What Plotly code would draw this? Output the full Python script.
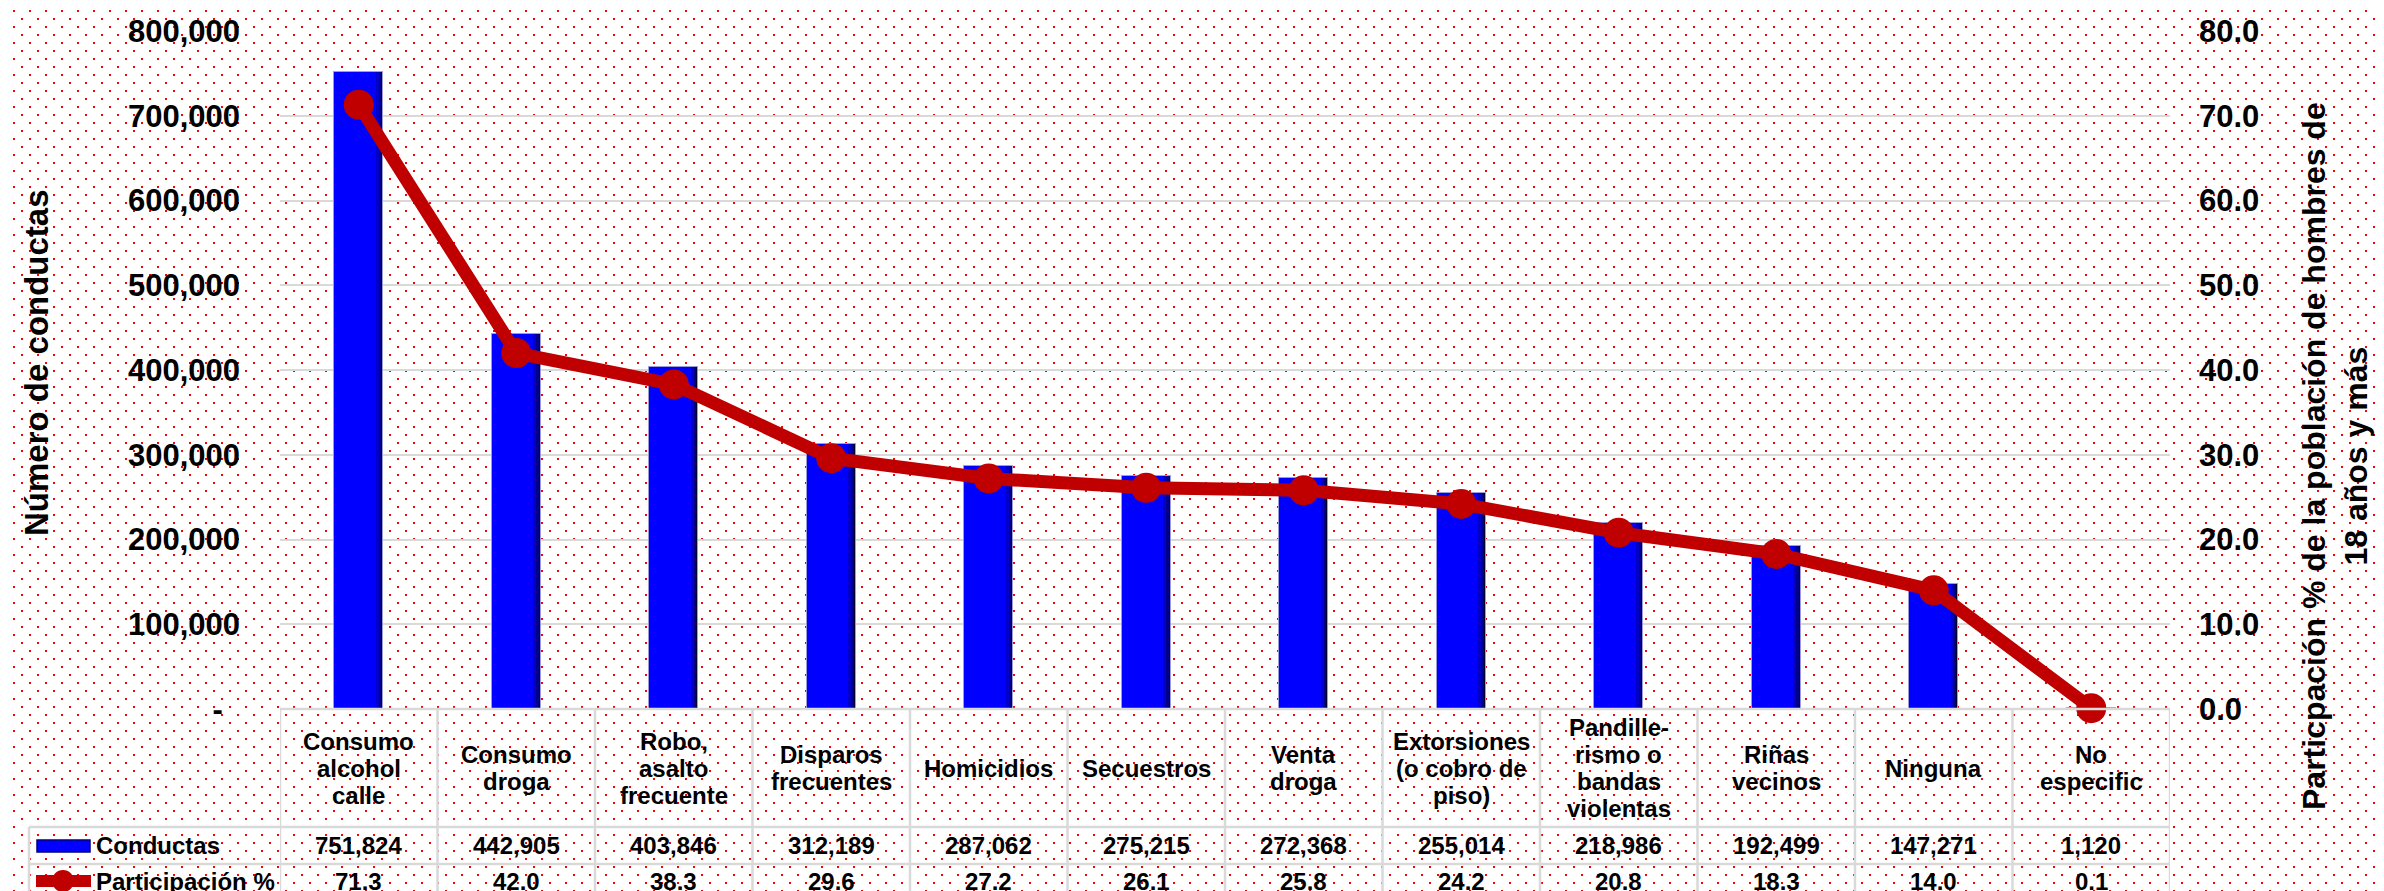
import base64
import plotly.graph_objects as go

# ---------------- data ----------------
categories = ["Consumo alcohol calle", "Consumo droga", "Robo, asalto frecuente",
              "Disparos frecuentes", "Homicidios", "Secuestros", "Venta droga",
              "Extorsiones (o cobro de piso)", "Pandille-rismo o bandas violentas",
              "Riñas vecinos", "Ninguna", "No especific"]
category_lines = [["Consumo", "alcohol", "calle"], ["Consumo", "droga"],
                  ["Robo,", "asalto", "frecuente"], ["Disparos", "frecuentes"],
                  ["Homicidios"], ["Secuestros"], ["Venta", "droga"],
                  ["Extorsiones", "(o cobro de", "piso)"],
                  ["Pandille-", "rismo o", "bandas", "violentas"],
                  ["Riñas", "vecinos"], ["Ninguna"], ["No", "especific"]]
conductas = [751824, 442905, 403846, 312189, 287062, 275215, 272368, 255014,
             218986, 192499, 147271, 1120]
participacion = [71.3, 42.0, 38.3, 29.6, 27.2, 26.1, 25.8, 24.2, 20.8, 18.3, 14.0, 0.1]
left_ticks = [0, 100000, 200000, 300000, 400000, 500000, 600000, 700000, 800000]
left_ticktext = ["-\u00a0\u00a0"] + [f"{v:,}" for v in left_ticks[1:]]
right_ticks = [0, 10, 20, 30, 40, 50, 60, 70, 80]
series_names = ["Conductas", "Participación %"]
left_title = "Número de conductas"
right_title = "Particpación % de la población de hombres de<br>18 años y más"

# ---------------- geometry ----------------
W, H = 2384, 891
L, R, T, B = 272, 2162, 23, 701
pw, ph = R - L, B - T
FONT = "Liberation Sans, Arial, sans-serif"
n = len(categories)
idx = list(range(n))


def px(x):
    return (x - L) / pw


def py(y):
    return (B - y) / ph


# ---------------- background dot pattern ----------------
svg = (f'<svg xmlns="http://www.w3.org/2000/svg" width="{W}" height="{H}">'
       '<defs><pattern id="p" x="0" y="0" width="16" height="16" patternUnits="userSpaceOnUse">'
       '<rect x="5" y="2" width="2" height="2" fill="#FF0000"/>'
       '<rect x="13" y="10" width="2" height="2" fill="#FF0000"/>'
       '</pattern></defs>'
       f'<rect width="{W}" height="{H}" fill="#FFFFFF"/>'
       f'<rect width="{W}" height="{H}" fill="url(#p)"/></svg>')
uri = "data:image/svg+xml;base64," + base64.b64encode(svg.encode()).decode()

fig = go.Figure()

# bars (layered for a bevelled look)
layers = [(0.311, "#00002E", dict(color="#9C9CD8", width=1)),
          (0.298, "#00008A", dict(width=0)),
          (0.283, "#0000C8", dict(width=0)),
          (0.262, "#0000FF", dict(width=0))]
for w, c, ln in layers:
    fig.add_trace(go.Bar(x=idx, y=conductas, width=w, offset=-0.1555,
                         marker=dict(color=c, line=ln), name=series_names[0],
                         showlegend=False, hoverinfo="skip" if c != "#0000FF" else None))

fig.add_trace(go.Scatter(x=idx, y=participacion, yaxis="y2", mode="lines+markers",
                         line=dict(color="#C00000", width=13),
                         marker=dict(color="#C00000", size=30),
                         name=series_names[1], showlegend=False, cliponaxis=False))

shapes = []
annotations = []
GRID = "#D9D9D9"

# table lines
shapes.append(dict(type="line", xref="paper", yref="paper", x0=0, x1=1, y0=py(B), y1=py(B),
                   line=dict(color=GRID, width=2.5), layer="above"))
for yy in (819, 856):
    shapes.append(dict(type="line", xref="paper", yref="paper", x0=px(21), x1=1,
                       y0=py(yy), y1=py(yy), line=dict(color=GRID, width=2.5)))
for k in range(n + 1):
    shapes.append(dict(type="line", xref="x", yref="paper", x0=k - 0.5, x1=k - 0.5,
                       y0=py(B), y1=py(893), line=dict(color=GRID, width=2.5)))
shapes.append(dict(type="line", xref="paper", yref="paper", x0=px(21), x1=px(21),
                   y0=py(819), y1=py(893), line=dict(color=GRID, width=2.5)))

# legend keys
shapes.append(dict(type="rect", xref="paper", yref="paper", x0=px(29), x1=px(82),
                   y0=py(844), y1=py(832), fillcolor="#0000FF",
                   line=dict(color="#00007A", width=1.5)))
shapes.append(dict(type="line", xref="paper", yref="paper", x0=px(28), x1=px(83),
                   y0=py(873), y1=py(873), line=dict(color="#C00000", width=12)))
shapes.append(dict(type="circle", xref="paper", yref="paper", x0=px(44), x1=px(66),
                   y0=py(884), y1=py(862), fillcolor="#C00000",
                   line=dict(color="#C00000", width=0)))

annotations.append(dict(text=f"<b>{series_names[0]}</b>", xref="paper", yref="paper",
                        x=px(86), y=py(838), xanchor="left", yanchor="middle", showarrow=False,
                        font=dict(family=FONT, size=24, color="#000000")))
annotations.append(dict(text=f"<b>{series_names[1]}</b>", xref="paper", yref="paper",
                        x=px(86), y=py(873), xanchor="left", yanchor="middle", showarrow=False,
                        font=dict(family=FONT, size=24, color="#000000")))

# category labels and values in table
row_center = 760
spacing = 27
for i in idx:
    lines = category_lines[i]
    m = len(lines)
    for j, t in enumerate(lines):
        yy = row_center + (j - (m - 1) / 2) * spacing
        annotations.append(dict(text=f"<b>{t}</b>", xref="x", yref="paper", x=i, y=py(yy),
                                xanchor="center", yanchor="middle", showarrow=False,
                                font=dict(family=FONT, size=24, color="#000000")))
    annotations.append(dict(text=f"<b>{conductas[i]:,}</b>", xref="x", yref="paper", x=i,
                            y=py(838), xanchor="center", yanchor="middle", showarrow=False,
                            font=dict(family=FONT, size=24, color="#000000")))
    annotations.append(dict(text=f"<b>{participacion[i]:.1f}</b>", xref="x", yref="paper", x=i,
                            y=py(873), xanchor="center", yanchor="middle", showarrow=False,
                            font=dict(family=FONT, size=24, color="#000000")))

# axis titles
annotations.append(dict(text=f"<b>{left_title}</b>", xref="paper", yref="paper",
                        x=px(28), y=py(355), textangle=-90, xanchor="center", yanchor="middle",
                        showarrow=False, font=dict(family=FONT, size=33, color="#000000")))
annotations.append(dict(text=f"<b>{right_title}</b>", xref="paper", yref="paper",
                        x=px(2327), y=py(448), textangle=-90, xanchor="center", yanchor="middle",
                        showarrow=False, align="center",
                        font=dict(family=FONT, size=32, color="#000000")))

fig.update_layout(
    width=W, height=H,
    margin=dict(l=L, r=W - R, t=T, b=H - B, pad=0, autoexpand=False),
    paper_bgcolor="#FFFFFF", plot_bgcolor="rgba(0,0,0,0)",
    barmode="overlay", bargap=0,
    showlegend=False,
    font=dict(family=FONT, color="#000000"),
    xaxis=dict(range=[-0.5, n - 0.5], showticklabels=False, showgrid=False,
               zeroline=False, showline=False, ticks=""),
    yaxis=dict(range=[0, 800000], tickvals=left_ticks, ticktext=left_ticktext,
               tickfont=dict(family=FONT, size=31, color="#000000", weight="bold"),
               showgrid=True, gridcolor=GRID, gridwidth=2, zeroline=False, showline=False,
               ticks="", ticklabelstandoff=39),
    yaxis2=dict(range=[0, 80], overlaying="y", side="right", tickvals=right_ticks,
                tickformat=".1f",
                tickfont=dict(family=FONT, size=31, color="#000000", weight="bold"),
                showgrid=False, zeroline=False, showline=False, ticks="",
                ticklabelstandoff=28),
    images=[dict(source=uri, xref="paper", yref="paper", x=px(0), y=py(0),
                 sizex=W / pw, sizey=H / ph, xanchor="left", yanchor="top",
                 sizing="stretch", layer="below")],
    shapes=shapes,
    annotations=annotations,
)

fig.write_html("out.html")
